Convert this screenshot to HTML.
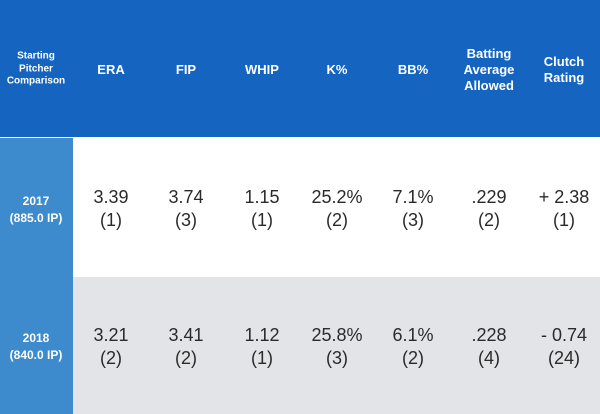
<!DOCTYPE html><html><head><style>
body{margin:0;width:600px;height:414px;overflow:hidden;font-family:"Liberation Sans",sans-serif;position:relative}
.hd{position:absolute;left:0;top:0;width:600px;height:137px;background:#1565c0}
.lc{position:absolute;left:0;top:138px;width:73px;height:276px;background:#3d8bcc}
.r1{position:absolute;left:73px;top:138px;width:527px;height:139px;background:#fff}
.r2{position:absolute;left:73px;top:277px;width:527px;height:137px;background:#e3e4e8}
.c{position:absolute;transform:translate(-50%,-50%);text-align:center;white-space:nowrap}
.h{color:#fff;font-weight:bold;font-size:13px;line-height:16px}
.d{color:#2a2a2a;font-size:18px;line-height:23px}
.y{color:#fff;font-weight:bold;font-size:12px;line-height:17px}
</style></head><body>
<div class="hd"></div><div class="lc"></div><div class="r1"></div><div class="r2"></div>
<div class="c h" style="left:36px;top:69px;font-size:10px;line-height:12.5px">Starting<br>Pitcher<br>Comparison</div>
<div class="c h" style="left:111px;top:70px">ERA</div>
<div class="c h" style="left:186px;top:70px">FIP</div>
<div class="c h" style="left:262px;top:70px">WHIP</div>
<div class="c h" style="left:337px;top:70px">K%</div>
<div class="c h" style="left:413px;top:70px">BB%</div>
<div class="c h" style="left:489px;top:70px">Batting<br>Average<br>Allowed</div>
<div class="c h" style="left:564px;top:70px">Clutch<br>Rating</div>
<div class="c y" style="left:36px;top:210px">2017<br>(885.0 IP)</div>
<div class="c y" style="left:36px;top:347px">2018<br>(840.0 IP)</div>
<div class="c d" style="left:111px;top:209px">3.39<br>(1)</div>
<div class="c d" style="left:186px;top:209px">3.74<br>(3)</div>
<div class="c d" style="left:262px;top:209px">1.15<br>(1)</div>
<div class="c d" style="left:337px;top:209px">25.2%<br>(2)</div>
<div class="c d" style="left:413px;top:209px">7.1%<br>(3)</div>
<div class="c d" style="left:489px;top:209px">.229<br>(2)</div>
<div class="c d" style="left:564px;top:209px">+ 2.38<br>(1)</div>
<div class="c d" style="left:111px;top:347px">3.21<br>(2)</div>
<div class="c d" style="left:186px;top:347px">3.41<br>(2)</div>
<div class="c d" style="left:262px;top:347px">1.12<br>(1)</div>
<div class="c d" style="left:337px;top:347px">25.8%<br>(3)</div>
<div class="c d" style="left:413px;top:347px">6.1%<br>(2)</div>
<div class="c d" style="left:489px;top:347px">.228<br>(4)</div>
<div class="c d" style="left:564px;top:347px">- 0.74<br>(24)</div>
</body></html>
